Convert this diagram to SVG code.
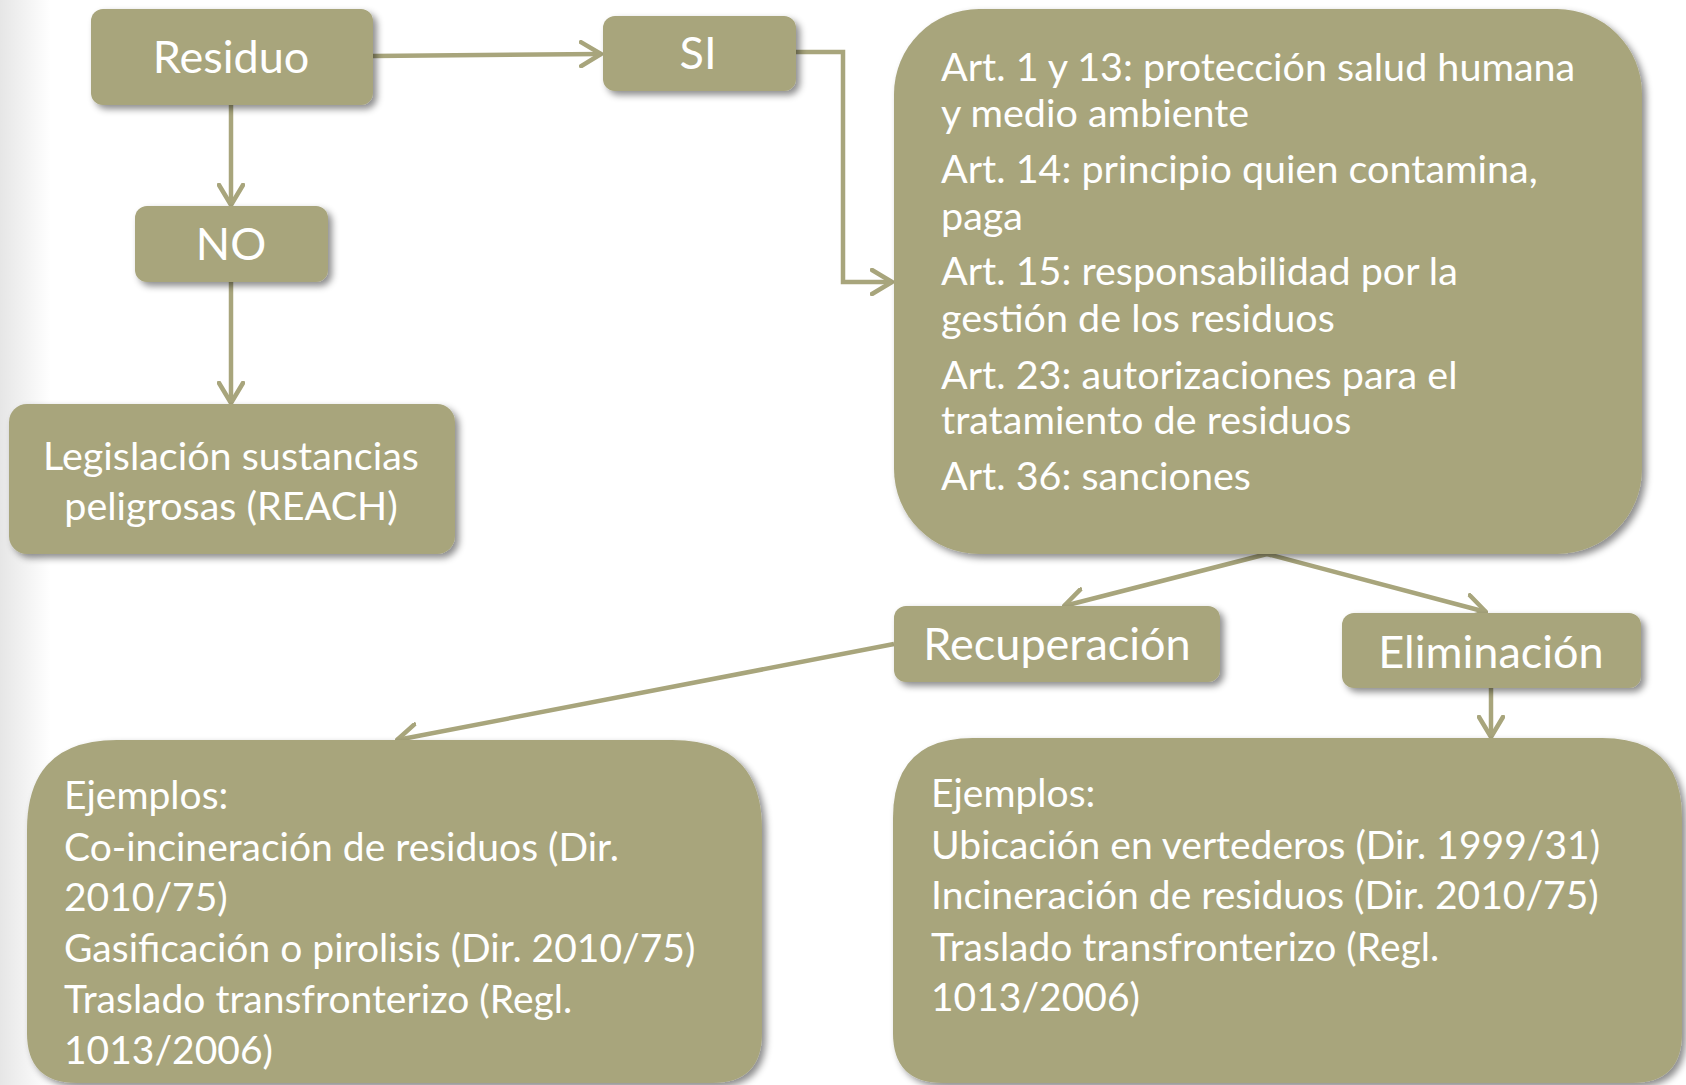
<svg xmlns="http://www.w3.org/2000/svg" width="1686" height="1085" viewBox="0 0 1686 1085">
<defs>
<linearGradient id="bg" x1="0" y1="0" x2="1" y2="0">
<stop offset="0" stop-color="#e6e6e6"/>
<stop offset="0.03" stop-color="#ffffff"/>
<stop offset="1" stop-color="#ffffff"/>
</linearGradient>
<filter id="sh" x="-10%" y="-10%" width="125%" height="130%">
<feDropShadow dx="4" dy="4" stdDeviation="3.5" flood-color="#000" flood-opacity="0.45"/>
</filter>
<marker id="ah" viewBox="0 0 24 28" refX="22" refY="14" markerWidth="24" markerHeight="28" markerUnits="userSpaceOnUse" orient="auto">
<path d="M2,2 L22,14 L2,26" fill="none" stroke="#a8a57c" stroke-width="4.5" stroke-linecap="round" stroke-linejoin="round"/>
</marker>
</defs>
<style>
.box{fill:#a8a57c;filter:url(#sh);}
.t{font-family:Lato,"Open Sans","Liberation Sans",sans-serif;fill:#ffffff;}
.title{font-size:45px;text-anchor:middle;}
.body{font-size:39.5px;}
.body2{font-size:39px;}
.mid{font-size:39.5px;text-anchor:middle;}
.c{fill:none;stroke:#a8a57c;stroke-width:4.5;marker-end:url(#ah);}
</style>
<rect x="0" y="0" width="1686" height="1085" fill="url(#bg)"/>

<g id="connectors">
<path class="c" d="M373,56 L601,54"/>
<path class="c" d="M796,52 L843,52 L843,282 L892,282"/>
<path class="c" d="M231,105 L231,205"/>
<path class="c" d="M231,282 L231,403"/>
<path class="c" d="M1267,554 L1064,606"/>
<path class="c" d="M1267,554 L1486,612"/>
<path class="c" d="M894,644 L397,740"/>
<path class="c" d="M1491,688 L1491,737"/>
</g>

<g id="residuo">
<rect class="box" x="91" y="9" width="282" height="96" rx="12"/>
<text class="t title" x="231" y="73">Residuo</text>
</g>

<g id="si">
<rect class="box" x="603" y="16" width="193" height="75" rx="12"/>
<text class="t title" x="698" y="69">SI</text>
</g>

<g id="no">
<rect class="box" x="135" y="206" width="193" height="76" rx="12"/>
<text class="t title" x="231" y="260">NO</text>
</g>

<g id="legislacion">
<rect class="box" x="9" y="404" width="446" height="150" rx="18"/>
<text class="t mid" x="231" y="470">Legislación sustancias</text>
<text class="t mid" x="231" y="520">peligrosas (REACH)</text>
</g>

<g id="articulos">
<rect class="box" x="894" y="9" width="748" height="545" rx="85"/>
<text class="t body" x="941" y="81">Art. 1 y 13: protección salud humana</text>
<text class="t body" x="941" y="127">y medio ambiente</text>
<text class="t body" x="941" y="183">Art. 14: principio quien contamina,</text>
<text class="t body" x="941" y="230">paga</text>
<text class="t body" x="941" y="285">Art. 15: responsabilidad por la</text>
<text class="t body" x="941" y="332">gestión de los residuos</text>
<text class="t body" x="941" y="389">Art. 23: autorizaciones para el</text>
<text class="t body" x="941" y="434">tratamiento de residuos</text>
<text class="t body" x="941" y="490">Art. 36: sanciones</text>
</g>

<g id="recuperacion">
<rect class="box" x="894" y="606" width="326" height="76" rx="12"/>
<text class="t title" x="1057" y="660">Recuperación</text>
</g>

<g id="eliminacion">
<rect class="box" x="1342" y="613" width="299" height="75" rx="12"/>
<text class="t title" x="1491" y="668">Eliminación</text>
</g>

<g id="ejemplos-recuperacion">
<path class="box" d="M117,740 L672,740 Q762,740 762,830 L762,1033 Q762,1083 712,1083 L77,1083 Q27,1083 27,1033 L27,830 Q27,740 117,740 Z"/>
<text class="t body2" x="64" y="809">Ejemplos:</text>
<text class="t body2" x="64" y="861">Co-incineración de residuos (Dir.</text>
<text class="t body2" x="64" y="911">2010/75)</text>
<text class="t body2" x="64" y="962">Gasificación o pirolisis (Dir. 2010/75)</text>
<text class="t body2" x="64" y="1013">Traslado transfronterizo (Regl.</text>
<text class="t body2" x="64" y="1064">1013/2006)</text>
</g>

<g id="ejemplos-eliminacion">
<path class="box" d="M973,738 L1602,738 Q1682,738 1682,818 L1682,1033 Q1682,1083 1632,1083 L943,1083 Q893,1083 893,1033 L893,818 Q893,738 973,738 Z"/>
<text class="t body2" x="931" y="807">Ejemplos:</text>
<text class="t body2" x="931" y="859">Ubicación en vertederos (Dir. 1999/31)</text>
<text class="t body2" x="931" y="909">Incineración de residuos (Dir. 2010/75)</text>
<text class="t body2" x="931" y="961">Traslado transfronterizo (Regl.</text>
<text class="t body2" x="931" y="1011">1013/2006)</text>
</g>
</svg>
